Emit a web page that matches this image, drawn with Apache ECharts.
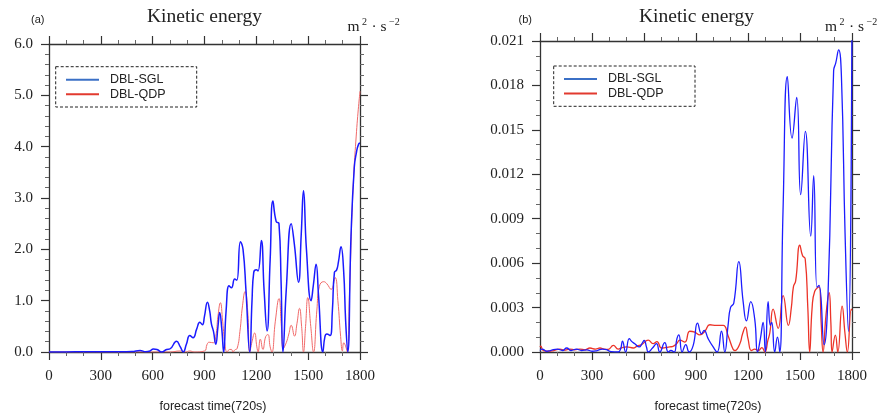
<!DOCTYPE html>
<html>
<head>
<meta charset="utf-8">
<script src="https://cdn.jsdelivr.net/npm/echarts@6/dist/echarts.min.js"></script>
<style>html,body{margin:0;padding:0;background:#fff}#c{width:882px;height:418px}</style>
</head>
<body>
<div id="c"></div>
<script>
// ---- data (forecast time in 720 s steps, kinetic energy m^2 s^-2) ----
const seriesNames = ['DBL-SGL', 'DBL-QDP'];
const xTicks = [0, 300, 600, 900, 1200, 1500, 1800];
const yTicksA = [0, 1, 2, 3, 4, 5, 6];
const yTicksB = [0, 0.003, 0.006, 0.009, 0.012, 0.015, 0.018, 0.021];

// panel (a)
const sglA = [[0,0],[100,0.002],[200,0.003],[300,0.003],[400,0.004],[480,0.008],[527,0.03],[560,0.005],[585,0.02],[604,0.06],[625,0.05],[652,0.0],[681,0.05],[700,0.06],[738,0.21],[760,0.1],[777,0],[795,0.15],[815,0.32],[834,0.28],[855,0.45],[873,0.58],[888,0.53],[900,0.7],[917,0.97],[930,0.8],[940,0.55],[952,0.4],[965,0.15],[978,0.5],[988,0.77],[1000,0.45],[1011,0],[1025,0.8],[1042,1.29],[1056,1.25],[1075,1.42],[1087,1.4],[1108,2.15],[1123,2.0],[1140,1.2],[1162,0],[1175,1.0],[1185,1.55],[1200,1.6],[1210,1.58],[1229,2.17],[1245,1.2],[1262,0.41],[1280,1.8],[1296,2.94],[1315,2.54],[1331,2.5],[1343,1.4],[1354,0],[1373,1.2],[1402,2.5],[1420,2.1],[1444,1.36],[1460,2.3],[1473,3.14],[1490,2.0],[1517,1.0],[1530,1.3],[1546,1.71],[1560,1.1],[1585,0],[1597,0.3],[1608,0.35],[1627,0.32],[1640,0.8],[1652,1.55],[1665,1.6],[1675,1.75],[1690,2.05],[1705,1.6],[1717,0.6],[1729,0],[1748,2.26],[1767,3.6],[1780,3.9],[1792,4.05],[1800,4.07]];
const qdpA = [[0,0],[700,0],[758,0.02],[790,0],[815,0.02],[840,0],[900,0.02],[915,0.15],[927,0.19],[950,0.18],[965,0.3],[978,0.7],[992,0.96],[1005,0.6],[1020,0.1],[1031,0],[1045,0.05],[1056,0.05],[1065,0],[1075,0.04],[1089,0.07],[1105,0.4],[1120,0.9],[1135,1.18],[1150,0.8],[1162,0],[1175,0.2],[1190,0.37],[1203,0.1],[1210,0],[1223,0.25],[1238,0.05],[1254,0.3],[1267,0.34],[1280,0.1],[1290,0],[1310,0.6],[1331,1.04],[1345,0.5],[1356,0.07],[1373,0.18],[1388,0.35],[1402,0.52],[1421,0.31],[1435,0.55],[1450,0.85],[1462,0.5],[1473,0],[1485,0.5],[1498,1.06],[1515,0.5],[1531,0],[1550,0.8],[1565,1.28],[1590,1.37],[1608,1.33],[1633,1.22],[1656,1.45],[1672,1.0],[1688,0.3],[1698,0.02],[1706,0.18],[1716,0.12],[1726,0],[1739,1.1],[1758,3.04],[1780,4.3],[1800,5.08]];

// panel (b)
const sglB = [[0,0.0001],[10,0.0002],[19,0.00018],[40,0.00005],[60,0.0001],[100,0.0002],[130,0.0001],[154,0.00027],[180,0.0001],[210,0.0002],[240,0.0001],[270,0.00015],[300,0.00005],[330,0.0001],[360,0.0002],[384,0.00016],[410,0.00002],[451,0],[465,0.0002],[476,0.00074],[494,0],[515,0.0009],[530,0.0007],[547,0.00056],[572,0.00034],[590,0.0006],[601,0.00078],[615,0.0003],[624,0],[649,0.00027],[672,0.00056],[691,0],[720,0.00063],[740,0],[755,0.0001],[774,0],[790,0.0009],[801,0.00116],[820,0],[841,0.0005],[860,0],[884,0.00045],[909,0.00195],[932,0.00123],[947,0.00146],[970,0.0009],[999,0.00034],[1022,0],[1047,0.0014],[1066,0],[1085,0.0018],[1099,0.003],[1118,0.0033],[1147,0.0061],[1172,0.0034],[1191,0.0021],[1216,0.0034],[1239,0.0022],[1255,0],[1272,0.00094],[1287,0.002],[1300,0],[1316,0.0034],[1329,0.0018],[1337,0.002],[1354,0],[1370,0.001],[1383,0],[1402,0.0095],[1427,0.0186],[1454,0.01444],[1481,0.0172],[1504,0.01063],[1531,0.0149],[1562,0.00783],[1579,0.0119],[1598,0.00437],[1610,0.0045],[1639,0.0005],[1662,0.004],[1694,0.019],[1706,0.0195],[1723,0.0204],[1739,0.0186],[1760,0.008],[1779,0.0014],[1800,0.024]];
const qdpB = [[0,0.00034],[4,0.0004],[19,0.0001],[50,0.00005],[80,0.0001],[115,0.0002],[140,0.00012],[173,0.0002],[200,0.00015],[230,0.0002],[260,0.00015],[288,0.00027],[320,0.0002],[346,0.00027],[370,0.0002],[394,0.00018],[423,0.00045],[451,0.0002],[475,0.0003],[500,0.00034],[538,0.00027],[560,0.0004],[586,0.0005],[624,0.0008],[653,0.00056],[675,0.0007],[701,0.00027],[725,0.0003],[749,0.00034],[770,0.0004],[788,0.00056],[807,0.0008],[836,0.00067],[864,0.0014],[893,0.00134],[922,0.00116],[951,0.0014],[980,0.00184],[1018,0.0018],[1057,0.0018],[1085,0.0011],[1114,0.00018],[1124,0.0001],[1153,0.00056],[1168,0.0012],[1185,0.00168],[1200,0.0009],[1220,0.0001],[1239,0.0002],[1260,0.0001],[1280,0.0003],[1297,0],[1315,0.0008],[1326,0.0013],[1345,0.0029],[1374,0.0016],[1403,0.0038],[1433,0.0018],[1450,0.003],[1462,0.0044],[1475,0.0048],[1499,0.00722],[1515,0.0065],[1530,0.0063],[1545,0.003],[1556,0],[1570,0.003],[1585,0.0041],[1610,0.0044],[1622,0.002],[1633,0],[1650,0.0025],[1668,0.004],[1678,0.002],[1685,0],[1704,0.00114],[1718,0],[1743,0.0031],[1760,0.0012],[1773,0],[1796,0.0029],[1800,0.0028]];

// ---- chart ----
const SERIF = 'Liberation Serif, Times New Roman, serif';
const SANS = 'Liberation Sans, Arial, sans-serif';
const AX = '#333';

function xAxisPair(grid) {
  const base = {
    type: 'value', gridIndex: grid, min: xTicks[0], max: xTicks[xTicks.length - 1],
    interval: xTicks[1] - xTicks[0], splitLine: {show: false},
    axisLine: {onZero: false, lineStyle: {color: AX, width: 1.3}},
    axisTick: {show: true, length: 8, lineStyle: {color: AX, width: 1.2}},
    minorTick: {show: true, splitNumber: 3, length: 4, lineStyle: {color: '#666', width: 1}}
  };
  return [
    Object.assign({}, base, {position: 'bottom',
      axisLabel: {fontFamily: SERIF, fontSize: 15, color: '#222', margin: 17, formatter: v => String(v)},
      name: 'forecast time(720s)', nameLocation: 'middle', nameGap: 48,
      nameTextStyle: {fontFamily: SANS, fontSize: 12.5, color: '#222', padding: [0, 0, 0, grid ? 24 : 17]}}),
    Object.assign({}, base, {position: 'top', axisLabel: {show: false}})
  ];
}
function yAxisPair(grid, ticks, dec, minorSplit) {
  const base = {
    type: 'value', gridIndex: grid, min: ticks[0], max: ticks[ticks.length - 1],
    interval: ticks[1] - ticks[0], splitLine: {show: false},
    axisLine: {onZero: false, lineStyle: {color: AX, width: 1.3}},
    axisTick: {show: true, length: 8, lineStyle: {color: AX, width: 1.2}},
    minorTick: {show: true, splitNumber: minorSplit, length: 4, lineStyle: {color: '#666', width: 1}}
  };
  return [
    Object.assign({}, base, {position: 'left',
      axisLabel: {fontFamily: SERIF, fontSize: 15, color: '#222', margin: 16,
        formatter: v => Number(v).toFixed(dec)}}),
    Object.assign({}, base, {position: 'right', axisLabel: {show: false}})
  ];
}

function legendFor(left, top) {
  return {
    left: left, top: top, orient: 'vertical', icon: 'rect', itemWidth: 33, itemHeight: 2,
    itemGap: 0.6, selectedMode: false, padding: 0,
    textStyle: {fontFamily: SANS, fontSize: 12.5, color: '#222', lineHeight: 14, padding: [0, 0, 0, 6]},
    data: [
      {name: seriesNames[0], itemStyle: {color: '#3b70c6'}},
      {name: seriesNames[1], itemStyle: {color: '#e23a2f'}}
    ]
  };
}

function line(name, data, xi, yi, color, width, z) {
  return {
    type: 'line', name: name, data: data, xAxisIndex: xi, yAxisIndex: yi,
    showSymbol: false, symbol: 'none', smooth: 0.5, clip: true, z: z,
    lineStyle: {color: color, width: width}, itemStyle: {color: color}
  };
}

function unitLabel(x0) {
  const t = (dx, y, text, size) => ({type: 'text', x: x0 + dx, y: y,
    style: {text: text, fontFamily: SERIF, fontSize: size, fill: '#222', align: 'left', verticalAlign: 'middle'}});
  return [t(0, 27, 'm', 15.5), t(14.5, 22, '2', 10), t(24, 27, '·', 15.5), t(33, 27, 's', 15.5), t(41.5, 22, '−2', 10)];
}

const chart = echarts.init(document.getElementById('c'), null, {renderer: 'canvas'});
const xs = xAxisPair(0).concat(xAxisPair(1));
const ys = yAxisPair(0, yTicksA, 1, 5).concat(yAxisPair(1, yTicksB, 3, 3));

chart.setOption({
  animation: false,
  backgroundColor: '#fff',
  grid: [
    {left: 49, top: 44, width: 311, height: 309},
    {left: 540, top: 41, width: 312, height: 312}
  ],
  xAxis: xs,
  yAxis: ys,
  legend: [legendFor(66, 72.7), legendFor(564, 72)],
  series: [
    line(seriesNames[1], qdpA, 0, 0, '#f06a6a', 1, 2),
    line(seriesNames[0], sglA, 0, 0, '#1a1aff', 1.5, 3),
    line(seriesNames[1], qdpB, 2, 2, '#ec3328', 1.3, 2),
    line(seriesNames[0], sglB, 2, 2, '#1c1cff', 1.3, 3)
  ],
  graphic: [
    {type: 'text', x: 204.5, y: 17, style: {text: 'Kinetic energy', fontFamily: SERIF, fontSize: 19.5, fill: '#222', align: 'center', verticalAlign: 'middle'}},
    {type: 'text', x: 696.5, y: 17, style: {text: 'Kinetic energy', fontFamily: SERIF, fontSize: 19.5, fill: '#222', align: 'center', verticalAlign: 'middle'}},
    {type: 'text', x: 31, y: 20, style: {text: '(a)', fontFamily: SANS, fontSize: 11, fill: '#222', align: 'left', verticalAlign: 'middle'}},
    {type: 'text', x: 518.5, y: 20, style: {text: '(b)', fontFamily: SANS, fontSize: 11, fill: '#222', align: 'left', verticalAlign: 'middle'}},
    {type: 'group', children: unitLabel(347.5)},
    {type: 'group', children: unitLabel(825)},
    {type: 'rect', shape: {x: 55.7, y: 66.7, width: 141, height: 40.3}, style: {fill: 'none', stroke: '#222', lineWidth: 1, lineDash: [3, 2]}},
    {type: 'rect', shape: {x: 553.7, y: 66, width: 141.3, height: 40.3}, style: {fill: 'none', stroke: '#222', lineWidth: 1, lineDash: [3, 2]}}
  ]
});
</script>
</body>
</html>
